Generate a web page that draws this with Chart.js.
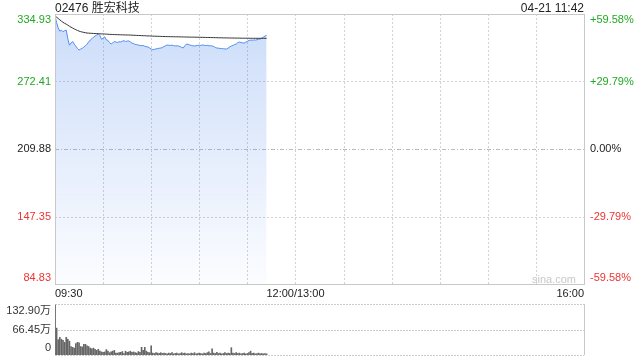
<!DOCTYPE html>
<html>
<head>
<meta charset="utf-8">
<script src="https://cdn.jsdelivr.net/npm/chart.js@4.4.1/dist/chart.umd.min.js"></script>
<style>
body { margin: 0; width: 640px; height: 360px; background: #fff; position: relative; overflow: hidden;
       font-family: Arial, "Liberation Sans", "Noto Sans CJK SC", sans-serif; }
canvas { position: absolute; left: 0; }
#price { top: 0; }
#vol { top: 290px; }
.txt { position: absolute; font-size: 12px; line-height: 14px; color: #222; white-space: nowrap; z-index: 2; }
</style>
</head>
<body>
<div class="txt" style="left:55px;top:1px">02476 胜宏科技</div>
<div class="txt" style="right:56px;top:1px">04-21 11:42</div>
<div class="txt" style="left:532px;top:272px;color:#c8c8c8;font-size:11px">sina.com</div>
<canvas id="price" width="640" height="300"></canvas>
<canvas id="vol" width="640" height="70"></canvas>
<script>
// previous close and axis ticks
const prevClose = 209.88;
const priceTicks = [334.93, 272.41, 209.88, 147.35, 84.83];
const priceLabels = ['334.93', '272.41', '209.88', '147.35', '84.83'];
const pctLabels = ['+59.58%', '+29.79%', '0.00%', '-29.79%', '-59.58%'];
const timeTicks = [0, 150, 330];
const timeLabels = ['09:30', '12:00/13:00', '16:00'];
const volTicks = [132.9, 66.45, 0];
const volLabels = ['132.90万', '66.45万', '0'];

// one value per minute from 09:30 to 11:42
const price = [
  333.1, 327.0, 322.0, 319.0, 320.0, 318.5, 319.5, 320.0, 312.0, 306.0,
  308.0, 309.5, 307.0, 305.0, 303.0, 301.5, 302.5, 303.0, 304.5, 305.5,
  307.0, 309.0, 310.8, 312.0, 313.5, 314.5, 315.5, 316.5, 315.0, 311.5,
  312.5, 313.8, 311.0, 310.5, 308.5, 307.2, 308.0, 309.5, 309.0, 308.5,
  309.3, 309.0, 309.8, 310.2, 309.5, 309.8, 310.0, 309.0, 308.0, 307.5,
  306.8, 306.5, 306.2, 305.8, 305.5, 305.8, 305.0, 304.6, 304.4, 303.5,
  302.5, 301.8, 302.2, 302.6, 302.9, 303.2, 303.4, 304.0, 304.8, 305.6,
  306.2, 306.0, 305.8, 306.1, 305.6, 305.4, 305.5, 305.3, 304.7, 304.0,
  303.5, 305.5, 307.1, 306.8, 306.2, 305.9, 305.5, 305.3, 305.6, 305.9,
  306.0, 305.8, 306.2, 306.0, 305.7, 305.9, 305.5, 305.6, 305.3, 304.8,
  304.0, 303.4, 303.3, 303.0, 302.9, 302.7, 302.6, 302.5, 303.4, 304.4,
  305.3, 305.9, 306.6, 307.1, 308.3, 309.0, 308.6, 308.2, 308.0, 308.8,
  309.6, 310.4, 310.8, 310.6, 310.9, 310.8, 311.1, 311.5, 311.8, 312.6,
  313.5, 314.5, 315.2
];
const avgPrice = [
  333.1, 332.0, 330.8, 329.5, 328.3, 327.2, 326.3, 325.5, 324.6, 323.6,
  322.7, 321.9, 321.1, 320.4, 319.7, 319.1, 318.6, 318.2, 317.9, 317.6,
  317.3, 317.2, 317.1, 317.0, 316.9, 316.8, 316.8, 316.7, 316.6, 316.5,
  316.5, 316.4, 316.3, 316.2, 316.1, 316.0, 315.9, 315.9, 315.8, 315.8,
  315.7, 315.7, 315.6, 315.6, 315.5, 315.5, 315.5, 315.4, 315.3, 315.3,
  315.2, 315.1, 315.0, 315.0, 314.9, 314.8, 314.8, 314.7, 314.6, 314.6,
  314.5, 314.4, 314.4, 314.3, 314.3, 314.2, 314.2, 314.1, 314.1, 314.0,
  314.0, 314.0, 313.9, 313.9, 313.9, 313.8, 313.8, 313.8, 313.7, 313.7,
  313.7, 313.6, 313.6, 313.6, 313.5, 313.5, 313.5, 313.5, 313.4, 313.4,
  313.4, 313.3, 313.3, 313.3, 313.2, 313.2, 313.2, 313.1, 313.1, 313.1,
  313.0, 313.0, 312.9, 312.9, 312.9, 312.8, 312.8, 312.8, 312.7, 312.7,
  312.7, 312.7, 312.6, 312.6, 312.6, 312.6, 312.5, 312.5, 312.5, 312.5,
  312.5, 312.5, 312.4, 312.4, 312.4, 312.4, 312.4, 312.4, 312.4, 312.4,
  312.4, 312.4, 312.4
];
// volume in 万 shares per minute
const volume = [
  130, 70, 40, 46, 41, 38, 33, 46, 41, 36,
  22, 20, 18, 30, 33, 32, 22, 21, 28, 28,
  24, 22, 18, 16, 18, 15, 12, 15, 10, 8,
  7, 8, 14, 10, 6, 8, 10, 12, 5, 5,
  6, 7, 9, 4, 10, 7, 8, 10, 7, 8,
  6, 5, 9, 7, 20, 12, 20, 10, 7, 6,
  24, 5, 4, 6, 5, 4, 6, 4, 5, 4,
  3, 5, 4, 6, 3, 4, 5, 3, 4, 6,
  4, 5, 3, 4, 3, 5, 4, 6, 3, 4,
  5, 4, 3, 5, 4, 6, 8, 4, 16, 5,
  4, 7, 4, 5, 3, 4, 6, 4, 5, 4,
  19, 5, 4, 6, 4, 5, 3, 4, 5, 3,
  4, 6, 10, 4, 5, 3, 4, 5, 3, 4,
  3, 4, 3
];

const green = '#22a822';
const red = '#ee3333';
const FONT = '11px Arial, "Liberation Sans", "Noto Sans CJK SC", sans-serif';

function px(v) { return Math.round(v) + 0.5; }

function hLine(ctx, a, y, color, dash) {
  ctx.strokeStyle = color; ctx.setLineDash(dash);
  ctx.beginPath(); ctx.moveTo(a.left, px(y)); ctx.lineTo(a.right, px(y)); ctx.stroke();
}
function vLine(ctx, x, top, bottom, color, dash) {
  ctx.strokeStyle = color; ctx.setLineDash(dash);
  ctx.beginPath(); ctx.moveTo(px(x), top); ctx.lineTo(px(x), bottom); ctx.stroke();
}

const priceDecor = {
  id: 'priceDecor',
  beforeDatasetsDraw(chart) {
    const { ctx, chartArea: a, scales: { x, y } } = chart;
    ctx.save();
    ctx.lineWidth = 1;
    for (let t = 30; t < 330; t += 30) vLine(ctx, x.getPixelForValue(t), a.top, a.bottom, '#d2d2d2', [2, 2]);
    priceTicks.forEach(v => {
      if (v === prevClose) hLine(ctx, a, y.getPixelForValue(v), '#bbbbbb', [4, 2, 1, 2]);
      else hLine(ctx, a, y.getPixelForValue(v), '#d2d2d2', [2, 2]);
    });
    ctx.restore();
  },
  afterDraw(chart) {
    const { ctx, chartArea: a, scales: { x, y } } = chart;
    ctx.save();
    ctx.lineWidth = 1;
    ctx.strokeStyle = '#c8c8c8';
    ctx.strokeRect(px(a.left), px(a.top), Math.round(a.right - a.left), Math.round(a.bottom - a.top));
    ctx.font = FONT;
    ctx.textBaseline = 'middle';
    priceTicks.forEach((v, i) => {
      let ty = y.getPixelForValue(v);
      if (i === 0) ty += 6;
      if (i === priceTicks.length - 1) ty -= 6;
      ctx.fillStyle = v > prevClose ? green : (v < prevClose ? red : '#222');
      ctx.textAlign = 'right';
      ctx.fillText(priceLabels[i], a.left - 4, ty);
      ctx.textAlign = 'left';
      ctx.fillText(pctLabels[i], a.right + 6, ty);
    });
    ctx.fillStyle = '#222';
    const aligns = ['left', 'center', 'right'];
    timeTicks.forEach((t, i) => {
      ctx.textAlign = aligns[i];
      ctx.fillText(timeLabels[i], x.getPixelForValue(t), a.bottom + 10);
    });
    ctx.restore();
  }
};

const volDecor = {
  id: 'volDecor',
  beforeDatasetsDraw(chart) {
    const { ctx, chartArea: a, scales: { y } } = chart;
    ctx.save();
    ctx.lineWidth = 1;
    volTicks.forEach(v => hLine(ctx, a, y.getPixelForValue(v), '#cccccc', [2, 1]));
    vLine(ctx, a.left, a.top, a.bottom, '#c8c8c8', []);
    vLine(ctx, a.right, a.top, a.bottom, '#c8c8c8', []);
    ctx.restore();
  },
  afterDraw(chart) {
    const { ctx, chartArea: a, scales: { y } } = chart;
    ctx.save();
    ctx.font = FONT;
    ctx.fillStyle = '#333';
    ctx.textAlign = 'right';
    ctx.textBaseline = 'middle';
    volTicks.forEach((v, i) => {
      let ty = y.getPixelForValue(v);
      if (i === 0) ty += 7;
      if (i === volTicks.length - 1) ty -= 7;
      ctx.fillText(volLabels[i], a.left - 4, ty);
    });
    ctx.restore();
  }
};

new Chart(document.getElementById('price'), {
  type: 'line',
  data: {
    datasets: [{
      data: avgPrice.map((v, i) => ({ x: i, y: v })),
      borderColor: '#333333',
      borderWidth: 1,
      pointRadius: 0,
      fill: false
    }, {
      data: price.map((v, i) => ({ x: i, y: v })),
      borderColor: '#4f8ef0',
      borderWidth: 1,
      pointRadius: 0,
      fill: 'start',
      backgroundColor: function(context) {
        const area = context.chart.chartArea;
        if (!area) return 'rgba(80,140,240,0.2)';
        const g = context.chart.ctx.createLinearGradient(0, area.top, 0, area.bottom);
        g.addColorStop(0, 'rgba(70,130,235,0.28)');
        g.addColorStop(1, 'rgba(70,130,235,0.02)');
        return g;
      }
    }]
  },
  options: {
    responsive: false,
    animation: false,
    layout: { padding: { left: 55, top: 14, right: 56, bottom: 16 } },
    plugins: { legend: { display: false }, tooltip: { enabled: false } },
    scales: {
      x: { type: 'linear', display: false, min: 0, max: 330 },
      y: { display: false, min: 84.83, max: 334.93 }
    }
  },
  plugins: [priceDecor]
});

new Chart(document.getElementById('vol'), {
  type: 'bar',
  data: {
    datasets: [{
      data: volume.map((v, i) => ({ x: i, y: v })),
      backgroundColor: '#666666',
      barThickness: 1
    }]
  },
  options: {
    responsive: false,
    animation: false,
    layout: { padding: { left: 55, top: 14, right: 56, bottom: 5 } },
    plugins: { legend: { display: false }, tooltip: { enabled: false } },
    scales: {
      x: { type: 'linear', display: false, min: 0, max: 330, offset: false },
      y: { display: false, min: 0, max: 132.9 }
    }
  },
  plugins: [volDecor]
});
</script>
</body>
</html>
